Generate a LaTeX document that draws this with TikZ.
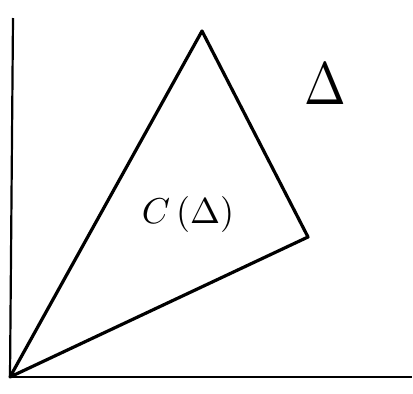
\documentclass[tikz,border=0pt]{standalone}
\begin{document}
\begin{tikzpicture}[x=1pt,y=-1pt,
  axis/.style={line width=2.2pt},
  edge/.style={line width=3.2pt,line join=round,line cap=round},
  lbl/.style={inner sep=0pt}]
\useasboundingbox (0,0) rectangle (413,394);
\coordinate (O) at (10,377);
\coordinate (ytop) at (13,18);
\coordinate (xend) at (412,377);
\coordinate (A) at (202,31);
\coordinate (B) at (308,237);
\draw[axis] (O) -- (ytop);
\draw[axis] (O) -- (xend);
\draw[edge] (O) -- (A) -- (B) -- cycle;
\node[lbl,xscale=5,yscale=6] (delta) at (325,84) {$\Delta$};
\node[lbl,scale=3.6] (cdelta) at (188,214) {$C\,(\Delta)$};
\end{tikzpicture}
\end{document}
